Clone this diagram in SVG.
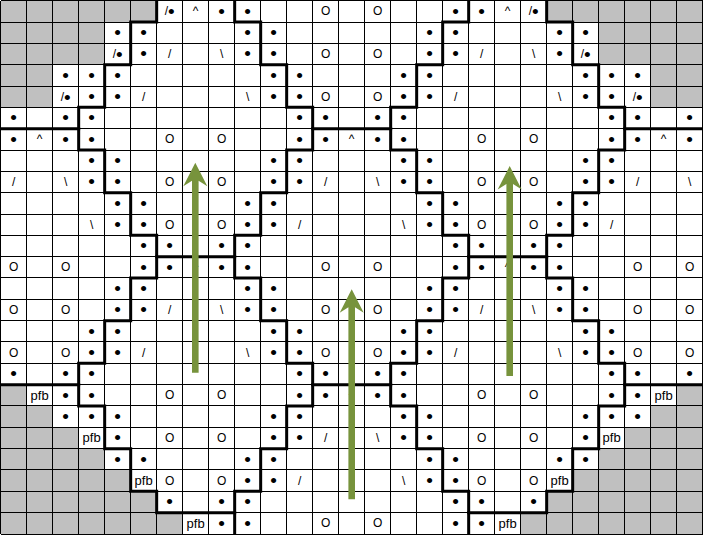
<svg xmlns="http://www.w3.org/2000/svg" width="703" height="535" viewBox="0 0 703 535">
<style>
text{font-family:"Liberation Sans",Arial,sans-serif;text-anchor:middle;dominant-baseline:central;fill:#000}
.d{font-size:19px}
.o{font-size:12px}
.s{font-size:12px}
.p{font-size:13px}
.m{font-size:12px}
.grid{fill:none;stroke:#000;stroke-width:1}
.gray{fill:#c0c0c0}
.thick{fill:none;stroke:#000;stroke-width:3;stroke-linecap:square;stroke-linejoin:miter}
.arrow{fill:#77933c}
</style>
<defs>
<path id="arr" d="M0,0 L12,23.5 L3.3,18 L3.3,210 L-3.3,210 L-3.3,18 L-12,23.5 Z"/>
</defs>
<rect width="703" height="535" fill="#fff"/>
<g transform="translate(0.67,0.67)">
<g id="shaded" class="gray" shape-rendering="crispEdges">
<path d="M0,0 H156 V21.33 H104 V64 H52 V106.67 H0 Z"/>
<path d="M702,0 H546 V21.33 H598 V64 H650 V106.67 H702 Z"/>
<path d="M0,384 H26 V405.33 H52 V426.67 H78 V448 H104 V469.33 H130 V490.67 H156 V512 H182 V533.33 H0 Z"/>
<path d="M702,384 H676 V405.33 H650 V426.67 H624 V448 H598 V469.33 H572 V490.67 H546 V512 H520 V533.33 H702 Z"/>
</g>
<path id="grid" class="grid" shape-rendering="crispEdges" d="M0,0V533.33M26,0V533.33M52,0V533.33M78,0V533.33M104,0V533.33M130,0V533.33M156,0V533.33M182,0V533.33M208,0V533.33M234,0V533.33M260,0V533.33M286,0V533.33M312,0V533.33M338,0V533.33M364,0V533.33M390,0V533.33M416,0V533.33M442,0V533.33M468,0V533.33M494,0V533.33M520,0V533.33M546,0V533.33M572,0V533.33M598,0V533.33M624,0V533.33M650,0V533.33M676,0V533.33M702,0V533.33
M0,0H702M0,21.33H702M0,42.67H702M0,64H702M0,85.33H702M0,106.67H702M0,128H702M0,149.33H702M0,170.67H702M0,192H702M0,213.33H702M0,234.67H702M0,256H702M0,277.33H702M0,298.67H702M0,320H702M0,341.33H702M0,362.67H702M0,384H702M0,405.33H702M0,426.67H702M0,448H702M0,469.33H702M0,490.67H702M0,512H702M0,533.33H702"/>
<g id="outlines" class="thick">
<path d="M156,0 V21.33 H130 V64 H104 V106.67 H78 V149.33 H104 V192 H130 V234.67 H156 V277.33 H130 V320 H104 V362.67 H78 V405.33 H104 V448 H130 V490.67 H156 V512 H234"/>
<path d="M0,128 H78 M156,256 H234 M0,384 H78"/>
<path d="M234,0 V21.33 H260 V64 H286 V106.67 H312 V149.33 H286 V192 H260 V234.67 H234 V277.33 H260 V320 H286 V362.67 H312 V405.33 H286 V448 H260 V490.67 H234 V533.33"/>
<path d="M312,128 H390 M312,384 H390"/>
<path d="M468,0 V21.33 H442 V64 H416 V106.67 H390 V149.33 H416 V192 H442 V234.67 H468 V277.33 H442 V320 H416 V362.67 H390 V405.33 H416 V448 H442 V490.67 H468 V533.33"/>
<path d="M546,0 V21.33 H572 V64 H598 V106.67 H624 V149.33 H598 V192 H572 V234.67 H546 V277.33 H572 V320 H598 V362.67 H624 V405.33 H598 V448 H572 V490.67 H546 V512 H468"/>
<path d="M624,128 H702 M468,256 H546 M624,384 H702"/>
</g>
<g id="row0">
<text class="m" x="169" y="10.67">/<tspan class="d">•</tspan></text><text class="s" x="195" y="10.67">^</text><text class="d" x="221" y="10.67">•</text><text class="d" x="247" y="10.67">•</text><text class="o" x="325" y="10.67">O</text><text class="o" x="377" y="10.67">O</text><text class="d" x="455" y="10.67">•</text><text class="d" x="481" y="10.67">•</text><text class="s" x="507" y="10.67">^</text><text class="m" x="533" y="10.67">/<tspan class="d">•</tspan></text>
</g>
<g id="row1">
<text class="d" x="117" y="32">•</text><text class="d" x="143" y="32">•</text><text class="d" x="247" y="32">•</text><text class="d" x="273" y="32">•</text><text class="d" x="429" y="32">•</text><text class="d" x="455" y="32">•</text><text class="d" x="559" y="32">•</text><text class="d" x="585" y="32">•</text>
</g>
<g id="row2">
<text class="m" x="117" y="53.33">/<tspan class="d">•</tspan></text><text class="d" x="143" y="53.33">•</text><text class="s" x="169" y="53.33">/</text><text class="s" x="221" y="53.33">\</text><text class="d" x="247" y="53.33">•</text><text class="d" x="273" y="53.33">•</text><text class="o" x="325" y="53.33">O</text><text class="o" x="377" y="53.33">O</text><text class="d" x="429" y="53.33">•</text><text class="d" x="455" y="53.33">•</text><text class="s" x="481" y="53.33">/</text><text class="s" x="533" y="53.33">\</text><text class="d" x="559" y="53.33">•</text><text class="m" x="585" y="53.33">/<tspan class="d">•</tspan></text>
</g>
<g id="row3">
<text class="d" x="65" y="74.67">•</text><text class="d" x="91" y="74.67">•</text><text class="d" x="117" y="74.67">•</text><text class="d" x="273" y="74.67">•</text><text class="d" x="299" y="74.67">•</text><text class="d" x="403" y="74.67">•</text><text class="d" x="429" y="74.67">•</text><text class="d" x="585" y="74.67">•</text><text class="d" x="611" y="74.67">•</text><text class="d" x="637" y="74.67">•</text>
</g>
<g id="row4">
<text class="m" x="65" y="96">/<tspan class="d">•</tspan></text><text class="d" x="91" y="96">•</text><text class="d" x="117" y="96">•</text><text class="s" x="143" y="96">/</text><text class="s" x="247" y="96">\</text><text class="d" x="273" y="96">•</text><text class="d" x="299" y="96">•</text><text class="o" x="325" y="96">O</text><text class="o" x="377" y="96">O</text><text class="d" x="403" y="96">•</text><text class="d" x="429" y="96">•</text><text class="s" x="455" y="96">/</text><text class="s" x="559" y="96">\</text><text class="d" x="585" y="96">•</text><text class="d" x="611" y="96">•</text><text class="m" x="637" y="96">/<tspan class="d">•</tspan></text>
</g>
<g id="row5">
<text class="d" x="13" y="117.33">•</text><text class="d" x="65" y="117.33">•</text><text class="d" x="91" y="117.33">•</text><text class="d" x="299" y="117.33">•</text><text class="d" x="325" y="117.33">•</text><text class="d" x="377" y="117.33">•</text><text class="d" x="403" y="117.33">•</text><text class="d" x="611" y="117.33">•</text><text class="d" x="637" y="117.33">•</text><text class="d" x="689" y="117.33">•</text>
</g>
<g id="row6">
<text class="d" x="13" y="138.67">•</text><text class="s" x="39" y="138.67">^</text><text class="d" x="65" y="138.67">•</text><text class="d" x="91" y="138.67">•</text><text class="o" x="169" y="138.67">O</text><text class="o" x="221" y="138.67">O</text><text class="d" x="299" y="138.67">•</text><text class="d" x="325" y="138.67">•</text><text class="s" x="351" y="138.67">^</text><text class="d" x="377" y="138.67">•</text><text class="d" x="403" y="138.67">•</text><text class="o" x="481" y="138.67">O</text><text class="o" x="533" y="138.67">O</text><text class="d" x="611" y="138.67">•</text><text class="d" x="637" y="138.67">•</text><text class="s" x="663" y="138.67">^</text><text class="d" x="689" y="138.67">•</text>
</g>
<g id="row7">
<text class="d" x="91" y="160">•</text><text class="d" x="117" y="160">•</text><text class="d" x="273" y="160">•</text><text class="d" x="299" y="160">•</text><text class="d" x="403" y="160">•</text><text class="d" x="429" y="160">•</text><text class="d" x="585" y="160">•</text><text class="d" x="611" y="160">•</text>
</g>
<g id="row8">
<text class="s" x="13" y="181.33">/</text><text class="s" x="65" y="181.33">\</text><text class="d" x="91" y="181.33">•</text><text class="d" x="117" y="181.33">•</text><text class="o" x="169" y="181.33">O</text><text class="o" x="221" y="181.33">O</text><text class="d" x="273" y="181.33">•</text><text class="d" x="299" y="181.33">•</text><text class="s" x="325" y="181.33">/</text><text class="s" x="377" y="181.33">\</text><text class="d" x="403" y="181.33">•</text><text class="d" x="429" y="181.33">•</text><text class="o" x="481" y="181.33">O</text><text class="o" x="533" y="181.33">O</text><text class="d" x="585" y="181.33">•</text><text class="d" x="611" y="181.33">•</text><text class="s" x="637" y="181.33">/</text><text class="s" x="689" y="181.33">\</text>
</g>
<g id="row9">
<text class="d" x="117" y="202.67">•</text><text class="d" x="143" y="202.67">•</text><text class="d" x="247" y="202.67">•</text><text class="d" x="273" y="202.67">•</text><text class="d" x="429" y="202.67">•</text><text class="d" x="455" y="202.67">•</text><text class="d" x="559" y="202.67">•</text><text class="d" x="585" y="202.67">•</text>
</g>
<g id="row10">
<text class="s" x="91" y="224">\</text><text class="d" x="117" y="224">•</text><text class="d" x="143" y="224">•</text><text class="o" x="169" y="224">O</text><text class="o" x="221" y="224">O</text><text class="d" x="247" y="224">•</text><text class="d" x="273" y="224">•</text><text class="s" x="299" y="224">/</text><text class="s" x="403" y="224">\</text><text class="d" x="429" y="224">•</text><text class="d" x="455" y="224">•</text><text class="o" x="481" y="224">O</text><text class="o" x="533" y="224">O</text><text class="d" x="559" y="224">•</text><text class="d" x="585" y="224">•</text><text class="s" x="611" y="224">/</text>
</g>
<g id="row11">
<text class="d" x="143" y="245.33">•</text><text class="d" x="169" y="245.33">•</text><text class="d" x="221" y="245.33">•</text><text class="d" x="247" y="245.33">•</text><text class="d" x="455" y="245.33">•</text><text class="d" x="481" y="245.33">•</text><text class="d" x="533" y="245.33">•</text><text class="d" x="559" y="245.33">•</text>
</g>
<g id="row12">
<text class="o" x="13" y="266.67">O</text><text class="o" x="65" y="266.67">O</text><text class="d" x="143" y="266.67">•</text><text class="d" x="169" y="266.67">•</text><text class="s" x="195" y="266.67">^</text><text class="d" x="221" y="266.67">•</text><text class="d" x="247" y="266.67">•</text><text class="o" x="325" y="266.67">O</text><text class="o" x="377" y="266.67">O</text><text class="d" x="455" y="266.67">•</text><text class="d" x="481" y="266.67">•</text><text class="s" x="507" y="266.67">^</text><text class="d" x="533" y="266.67">•</text><text class="d" x="559" y="266.67">•</text><text class="o" x="637" y="266.67">O</text><text class="o" x="689" y="266.67">O</text>
</g>
<g id="row13">
<text class="d" x="117" y="288">•</text><text class="d" x="143" y="288">•</text><text class="d" x="247" y="288">•</text><text class="d" x="273" y="288">•</text><text class="d" x="429" y="288">•</text><text class="d" x="455" y="288">•</text><text class="d" x="559" y="288">•</text><text class="d" x="585" y="288">•</text>
</g>
<g id="row14">
<text class="o" x="13" y="309.33">O</text><text class="o" x="65" y="309.33">O</text><text class="d" x="117" y="309.33">•</text><text class="d" x="143" y="309.33">•</text><text class="s" x="169" y="309.33">/</text><text class="s" x="221" y="309.33">\</text><text class="d" x="247" y="309.33">•</text><text class="d" x="273" y="309.33">•</text><text class="o" x="325" y="309.33">O</text><text class="o" x="377" y="309.33">O</text><text class="d" x="429" y="309.33">•</text><text class="d" x="455" y="309.33">•</text><text class="s" x="481" y="309.33">/</text><text class="s" x="533" y="309.33">\</text><text class="d" x="559" y="309.33">•</text><text class="d" x="585" y="309.33">•</text><text class="o" x="637" y="309.33">O</text><text class="o" x="689" y="309.33">O</text>
</g>
<g id="row15">
<text class="d" x="91" y="330.67">•</text><text class="d" x="117" y="330.67">•</text><text class="d" x="273" y="330.67">•</text><text class="d" x="299" y="330.67">•</text><text class="d" x="403" y="330.67">•</text><text class="d" x="429" y="330.67">•</text><text class="d" x="585" y="330.67">•</text><text class="d" x="611" y="330.67">•</text>
</g>
<g id="row16">
<text class="o" x="13" y="352">O</text><text class="o" x="65" y="352">O</text><text class="d" x="91" y="352">•</text><text class="d" x="117" y="352">•</text><text class="s" x="143" y="352">/</text><text class="s" x="247" y="352">\</text><text class="d" x="273" y="352">•</text><text class="d" x="299" y="352">•</text><text class="o" x="325" y="352">O</text><text class="o" x="377" y="352">O</text><text class="d" x="403" y="352">•</text><text class="d" x="429" y="352">•</text><text class="s" x="455" y="352">/</text><text class="s" x="559" y="352">\</text><text class="d" x="585" y="352">•</text><text class="d" x="611" y="352">•</text><text class="o" x="637" y="352">O</text><text class="o" x="689" y="352">O</text>
</g>
<g id="row17">
<text class="d" x="13" y="373.33">•</text><text class="d" x="65" y="373.33">•</text><text class="d" x="91" y="373.33">•</text><text class="d" x="299" y="373.33">•</text><text class="d" x="325" y="373.33">•</text><text class="d" x="377" y="373.33">•</text><text class="d" x="403" y="373.33">•</text><text class="d" x="611" y="373.33">•</text><text class="d" x="637" y="373.33">•</text><text class="d" x="689" y="373.33">•</text>
</g>
<g id="row18">
<text class="p" x="39" y="394.67">pfb</text><text class="d" x="65" y="394.67">•</text><text class="d" x="91" y="394.67">•</text><text class="o" x="169" y="394.67">O</text><text class="o" x="221" y="394.67">O</text><text class="d" x="299" y="394.67">•</text><text class="d" x="325" y="394.67">•</text><text class="s" x="351" y="394.67">^</text><text class="d" x="377" y="394.67">•</text><text class="d" x="403" y="394.67">•</text><text class="o" x="481" y="394.67">O</text><text class="o" x="533" y="394.67">O</text><text class="d" x="611" y="394.67">•</text><text class="d" x="637" y="394.67">•</text><text class="p" x="663" y="394.67">pfb</text>
</g>
<g id="row19">
<text class="d" x="65" y="416">•</text><text class="d" x="91" y="416">•</text><text class="d" x="117" y="416">•</text><text class="d" x="273" y="416">•</text><text class="d" x="299" y="416">•</text><text class="d" x="403" y="416">•</text><text class="d" x="429" y="416">•</text><text class="d" x="585" y="416">•</text><text class="d" x="611" y="416">•</text><text class="d" x="637" y="416">•</text>
</g>
<g id="row20">
<text class="p" x="91" y="437.33">pfb</text><text class="d" x="117" y="437.33">•</text><text class="o" x="169" y="437.33">O</text><text class="o" x="221" y="437.33">O</text><text class="d" x="273" y="437.33">•</text><text class="d" x="299" y="437.33">•</text><text class="s" x="325" y="437.33">/</text><text class="s" x="377" y="437.33">\</text><text class="d" x="403" y="437.33">•</text><text class="d" x="429" y="437.33">•</text><text class="o" x="481" y="437.33">O</text><text class="o" x="533" y="437.33">O</text><text class="d" x="585" y="437.33">•</text><text class="p" x="611" y="437.33">pfb</text>
</g>
<g id="row21">
<text class="d" x="117" y="458.67">•</text><text class="d" x="143" y="458.67">•</text><text class="d" x="247" y="458.67">•</text><text class="d" x="273" y="458.67">•</text><text class="d" x="429" y="458.67">•</text><text class="d" x="455" y="458.67">•</text><text class="d" x="559" y="458.67">•</text><text class="d" x="585" y="458.67">•</text>
</g>
<g id="row22">
<text class="p" x="143" y="480">pfb</text><text class="o" x="169" y="480">O</text><text class="o" x="221" y="480">O</text><text class="d" x="247" y="480">•</text><text class="d" x="273" y="480">•</text><text class="s" x="299" y="480">/</text><text class="s" x="403" y="480">\</text><text class="d" x="429" y="480">•</text><text class="d" x="455" y="480">•</text><text class="o" x="481" y="480">O</text><text class="o" x="533" y="480">O</text><text class="p" x="559" y="480">pfb</text>
</g>
<g id="row23">
<text class="d" x="169" y="501.33">•</text><text class="d" x="221" y="501.33">•</text><text class="d" x="247" y="501.33">•</text><text class="d" x="455" y="501.33">•</text><text class="d" x="481" y="501.33">•</text><text class="d" x="533" y="501.33">•</text>
</g>
<g id="row24">
<text class="p" x="195" y="522.67">pfb</text><text class="d" x="221" y="522.67">•</text><text class="d" x="247" y="522.67">•</text><text class="o" x="325" y="522.67">O</text><text class="o" x="377" y="522.67">O</text><text class="d" x="455" y="522.67">•</text><text class="d" x="481" y="522.67">•</text><text class="p" x="507" y="522.67">pfb</text>
</g>
</g>
<g id="arrows" class="arrow">
<use href="#arr" transform="translate(195.3,162.7)"/>
<use href="#arr" transform="translate(351.7,289.3)"/>
<use href="#arr" transform="translate(509.7,166)"/>
</g>
</svg>
